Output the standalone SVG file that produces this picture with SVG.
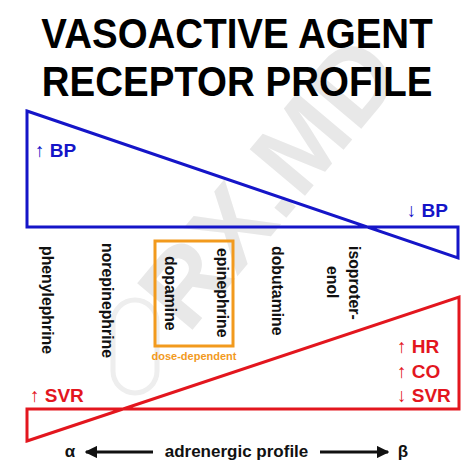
<svg xmlns="http://www.w3.org/2000/svg" width="474" height="474" viewBox="0 0 474 474">
<defs>
<style>
.title{font-family:"Liberation Sans",Arial,sans-serif;font-weight:bold;font-size:38.5px;fill:#000;text-anchor:middle}
.lbl{font-family:"Liberation Sans",Arial,sans-serif;font-weight:bold;font-size:15.8px;fill:#111}
.blue{font-family:"Liberation Sans",Arial,sans-serif;font-weight:bold;font-size:19px;fill:#1515c8}
.red{font-family:"Liberation Sans",Arial,sans-serif;font-weight:bold;font-size:19px;fill:#e3161e}
.axis{font-family:"Liberation Sans",Arial,sans-serif;font-weight:bold;font-size:17px;fill:#111}
.wm{font-family:"Liberation Sans",Arial,sans-serif;font-weight:bold;font-size:105px;fill:#e8e8e8}
</style>
<marker id="ah" viewBox="0 0 10 10" refX="9" refY="5" markerWidth="4.2" markerHeight="4.2" orient="auto-start-reverse" markerUnits="strokeWidth">
<path d="M0,0 L10,5 L0,10 Z" fill="#111"/>
</marker>
</defs>
<rect width="474" height="474" fill="#fff"/>
<g id="watermark">
<text class="wm" transform="translate(188,335) rotate(-50)">RX.MD</text>
<rect x="113" y="300" width="44" height="93" rx="22" fill="none" stroke="#eeeeee" stroke-width="5"/>
</g>
<g id="title">
<text class="title" transform="translate(237,48) scale(1,1.12)">VASOACTIVE AGENT</text>
<text class="title" transform="translate(237,96) scale(1,1.12)">RECEPTOR PROFILE</text>
</g>
<g id="bp-shape">
<path d="M27,111 L458,258 L458,227 L27,227 Z" fill="none" stroke="#1515c8" stroke-width="3" stroke-linejoin="miter"/>
<text class="blue" x="35" y="156.5">↑ BP</text>
<text class="blue" x="448" y="216.5" text-anchor="end">↓ BP</text>
</g>
<g id="svr-shape">
<path d="M27,441 L459,297 L459,409 L27,409 Z" fill="none" stroke="#e3161e" stroke-width="3" stroke-linejoin="miter"/>
<text class="red" x="30" y="402">↑ SVR</text>
<text class="red" x="397" y="353">↑ HR</text>
<text class="red" x="397" y="378">↑ CO</text>
<text class="red" x="397" y="401.5">↓ SVR</text>
</g>
<g id="agents">
<text class="lbl" transform="translate(41.5,246) rotate(90)">phenylephrine</text>
<text class="lbl" transform="translate(101.5,243) rotate(90)">norepinephrine</text>
<text class="lbl" transform="translate(165,256) rotate(90)">dopamine</text>
<text class="lbl" transform="translate(216.5,248) rotate(90)">epinephrine</text>
<text class="lbl" transform="translate(272,246) rotate(90)">dobutamine</text>
<text class="lbl" transform="translate(349,246) rotate(90)">isoproter-</text>
<text class="lbl" transform="translate(327,266) rotate(90)">enol</text>
</g>
<g id="dose-box">
<rect x="155" y="241" width="78" height="105" fill="none" stroke="#f29a1d" stroke-width="3"/>
<text x="194" y="360" text-anchor="middle" font-family="Liberation Sans, Arial, sans-serif" font-weight="bold" font-size="11" fill="#f29a1d">dose-dependent</text>
</g>
<g id="connectors">
<line x1="153" y1="452" x2="86" y2="452" stroke="#111" stroke-width="3" marker-end="url(#ah)"/>
<line x1="320" y1="452" x2="388" y2="452" stroke="#111" stroke-width="3" marker-end="url(#ah)"/>
</g>
<g id="axis">
<text class="axis" x="70" y="457" text-anchor="middle">α</text>
<text class="axis" x="236.5" y="457" text-anchor="middle">adrenergic profile</text>
<text class="axis" x="403" y="457" text-anchor="middle">β</text>
</g>
</svg>
